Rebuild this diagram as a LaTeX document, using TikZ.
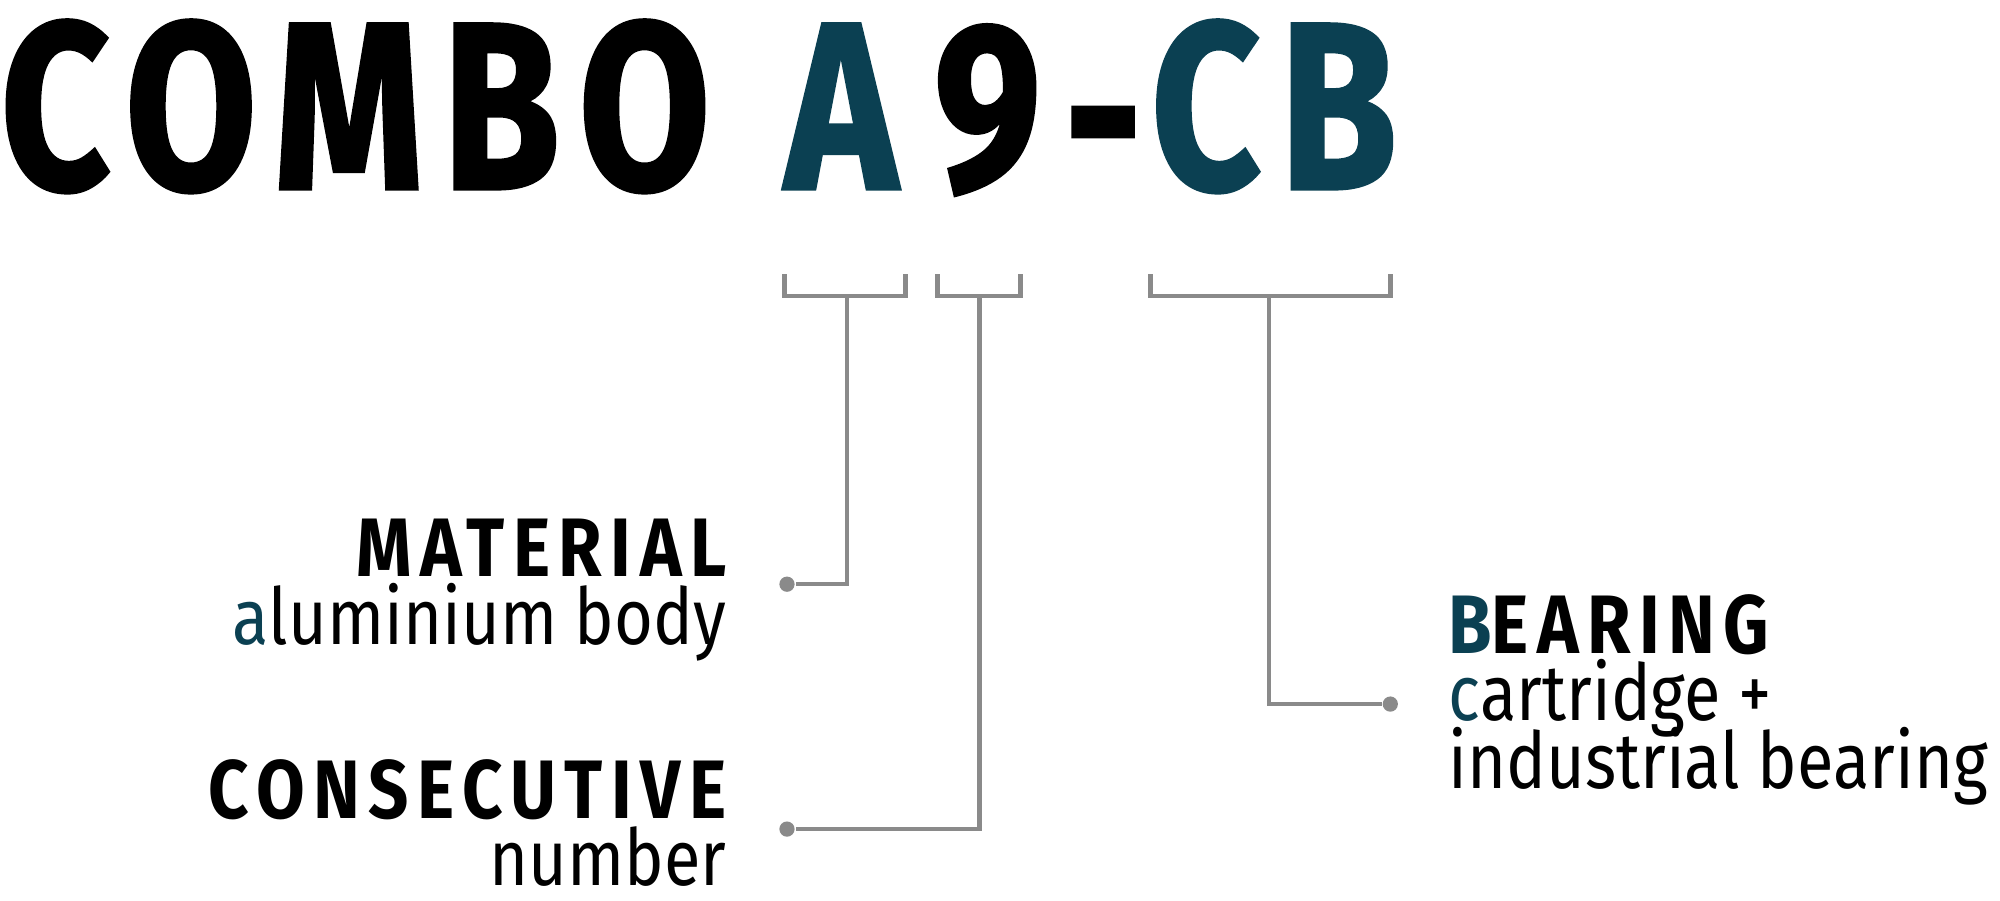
\documentclass[tikz,border=0pt]{standalone}
\usepackage{fontspec}
\setmainfont{Fira Sans}[Numbers=Lining]
\usepackage{xcolor}
\usepackage{tikz}
\usetikzlibrary{positioning}
\definecolor{petrol}{HTML}{0B4052}
\definecolor{wire}{HTML}{8A8A8A}

\begin{document}
\begin{tikzpicture} [x=0.01cm, y=-0.01cm, node distance = 5.3mm,
    big/.style = {font={\bfseries\fontsize{53}{53}\selectfont
      \addfontfeature{LetterSpace=10, FakeBold=1.5}}, anchor=base west,
      inner sep=0pt, xscale=0.8, transform shape},
    head/.style = {font={\bfseries\fontsize{18.5}{19}\selectfont
      \addfontfeature{LetterSpace=12}}, inner sep=0pt, xscale=0.85,
      transform shape},
    sub/.style = {font=\fontsize{17.5}{18}\selectfont, inner sep=0pt,
      xscale=0.85, transform shape},
    wire/.style = {draw=wire, line width=1pt},
    dot/.style = {circle, fill=wire, inner sep=0pt, minimum size=3.4pt}]

        \useasboundingbox (0,0) rectangle (1568,706);

        \node (combo) [big] at (0,148) {COMBO}; \node (a) [big, text=petrol] at
        (615,148) {A}; \node (nine) [big] at (732,148) {9}; \node (dash) [big]
        at (834,154) {-}; \node (cb) [big, text=petrol] at (902,148) {CB};

        \node (mat) [head, anchor=base east] at (570,452) {MATERIAL};
        \node (alu) [sub, below = of mat.base east, anchor=base east]
        {\textcolor{petrol}{a}luminium body};
        \node (cons) [head, anchor=base east] at (570,642) {CONSECUTIVE};
        \node (num) [sub, below = 5.2mm of cons.base east, anchor=base east]
        {number};
        \node (bear) [head, anchor=base west] at (1135,512)
        {\textcolor{petrol}{B}EARING};
        \node (cart) [sub, below = of bear.base west, anchor=base west]
        {\textcolor{petrol}{c}artridge +};
        \node (ind) [sub, below = of cart.base west, anchor=base west]
        {industrial bearing};

        \node (d1) [dot] at (617,458) {}; \node (d2) [dot] at (617,650) {};
        \node (d3) [dot] at (1090,552) {};

        \coordinate (b1) at (664,232); \coordinate (b2) at (768,232);
        \coordinate (b3) at (995,232);

        \draw [wire] (615,215) -- (615,232) -- (710,232) -- (710,215);
        \draw [wire] (735,215) -- (735,232) -- (800,232) -- (800,215);
        \draw [wire] (902,215) -- (902,232) -- (1090,232) -- (1090,215);

        \draw [wire] (b1) |- (d1) (b2) |- (d2) (b3) |- (d3);

    \end{tikzpicture}
\end{document}
